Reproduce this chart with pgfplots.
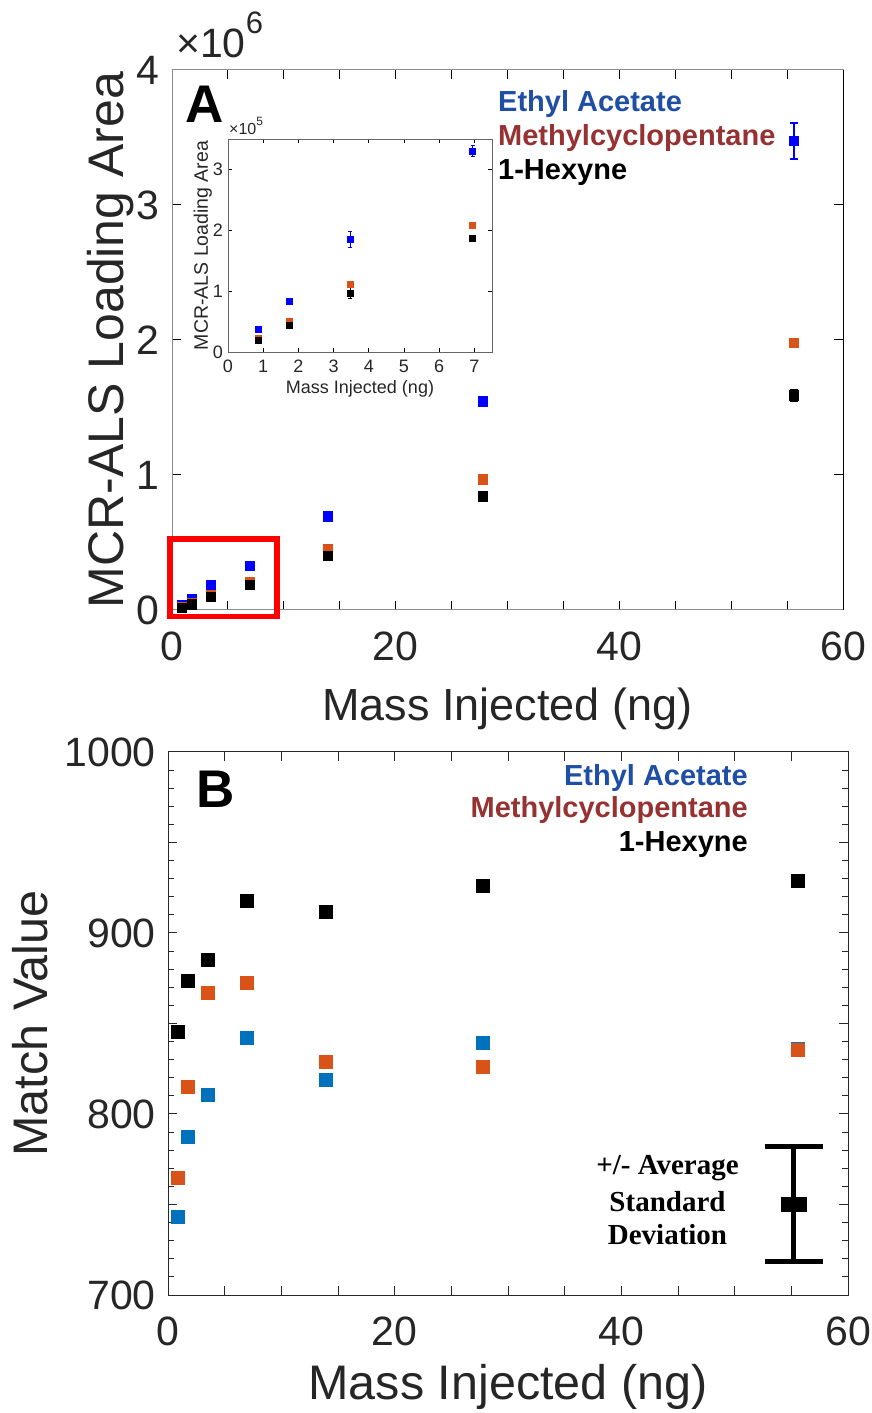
\documentclass[border=0pt]{standalone}
\usepackage{fontspec}
\setmainfont{Liberation Sans}
\newfontfamily\serifb{Liberation Serif}
\usepackage{pgfplots}
\usepackage{pgfplotstable}
\pgfplotsset{compat=1.18}
\definecolor{mblue}{RGB}{0,0,255}
\definecolor{morange}{RGB}{217,83,25}
\definecolor{mblueb}{RGB}{0,114,189}
\definecolor{legblue}{RGB}{31,78,165}
\definecolor{legred}{RGB}{150,50,50}
\definecolor{tickgray}{RGB}{38,38,38}
\newcommand{\fs}[1]{\fontsize{#1}{#1}\selectfont}

% Panel A: MCR-ALS loading area
\pgfplotstableread{
x y e
0.87 37000 2000
1.74 84000 4000
3.48 185000 13000
6.95 330000 9000
13.9 696000 10000
27.8 1548000 10000
55.6 3474000 137000
}\eaA
\pgfplotstableread{
x y e
0.87 23000 1000
1.74 51000 2000
3.48 112000 3000
6.95 209000 4000
13.9 450000 10000
27.8 970000 30000
55.6 1980000 25000
}\mcpA
\pgfplotstableread{
x y e
0.87 19000 2000
1.74 44000 3000
3.48 96500 9000
6.95 187000 5000
13.9 400000 5000
27.8 844000 8000
55.6 1590000 40000
}\hexA
% Panel B: match value
\pgfplotstableread{
x y
0.87 743.4
1.74 787.4
3.48 810.4
6.95 842
13.9 818.9
27.8 839.3
55.6 836.3
}\eaB
\pgfplotstableread{
x y
0.87 765
1.74 815.1
3.48 866.8
6.95 872.3
13.9 828.7
27.8 826
55.6 835.4
}\mcpB
\pgfplotstableread{
x y
0.87 845.4
1.74 873.7
3.48 885.1
6.95 917.9
13.9 911.6
27.8 926.1
55.6 928.9
}\hexB

\begin{document}
\begin{tikzpicture}[x=1pt,y=1pt]
\useasboundingbox (0,0) rectangle (871,1413);

% ---------------- Panel A ----------------
\begin{axis}[
  at={(172pt,803pt)}, anchor=south west, scale only axis,
  width=671pt, height=540pt,
  xmin=0, xmax=60, ymin=0, ymax=4e6,
  xtick={0,5,...,60}, xticklabels={0,,,,20,,,,40,,,,60},
  ytick={0,1e6,2e6,3e6,4e6}, yticklabels={0,1,2,3,4},
  scaled y ticks=false, scaled x ticks=false,
  tick align=inside, major tick length=9pt,
  axis line style={black!45, line width=1pt},
  every tick/.style={black, line width=1pt},
  tick label style={font=\fs{41}, text=tickgray, inner sep=0pt},
  xticklabel shift=22pt, yticklabel shift=12pt,
  /pgf/number format/assume math mode=true,
  xlabel={Mass Injected (ng)}, ylabel={MCR-ALS Loading Area},
  label style={text=tickgray, inner sep=0pt},
  xlabel style={font=\fs{45}, at={(axis description cs:0.5,-0.143)}, anchor=north},
  ylabel style={font=\fs{50}, at={(axis description cs:-0.056,0.5)}, anchor=south},
  clip=false,
]
\addplot[only marks, mark=square*, mark size=4.7pt, color=mblue,
  error bars/.cd, y dir=both, y explicit,
  error bar style={line width=2pt, mblue},
  error mark options={rotate=90, mark size=4pt, line width=2pt, mblue}]
  table[x=x, y=y, y error=e] {\eaA};
\addplot[only marks, mark=square*, mark size=4.7pt, color=morange,
  error bars/.cd, y dir=both, y explicit,
  error bar style={line width=2pt, morange},
  error mark options={rotate=90, mark size=4pt, line width=2pt, morange}]
  table[x=x, y=y, y error=e] {\mcpA};
\addplot[only marks, mark=square*, mark size=4.7pt, color=black,
  error bars/.cd, y dir=both, y explicit,
  error bar style={line width=2pt, black},
  error mark options={rotate=90, mark size=4pt, line width=2pt, black}]
  table[x=x, y=y, y error=e] {\hexA};
\draw[red, line width=5.5pt] (axis cs:-0.2,-0.05e6) rectangle (axis cs:9.4,0.525e6);
\draw[black, line width=1pt] (rel axis cs:1,0) -- (rel axis cs:1,1);
\end{axis}

% ---------------- Inset ----------------
\begin{axis}[
  at={(228pt,1061pt)}, anchor=south west, scale only axis,
  width=264pt, height=213pt,
  xmin=0, xmax=7.5, ymin=0, ymax=3.5e5,
  xtick={0,1,...,7},
  ytick={0,1e5,2e5,3e5}, yticklabels={0,1,2,3},
  scaled y ticks=false,
  axis background/.style={fill=white},
  tick align=inside, major tick length=4pt,
  axis line style={black!60, line width=0.7pt},
  every tick/.style={black, line width=0.7pt},
  tick label style={font=\fs{18}, text=tickgray, inner sep=0pt},
  xticklabel shift=8pt, yticklabel shift=5pt,
  /pgf/number format/assume math mode=true,
  xlabel={Mass Injected (ng)}, ylabel={MCR-ALS Loading Area},
  label style={text=tickgray, inner sep=0pt},
  xlabel style={font=\fs{18}, at={(axis description cs:0.5,-0.131)}, anchor=north},
  ylabel style={font=\fs{19.5}, at={(axis description cs:-0.06,0.5)}, anchor=south},
  clip=true,
]
\addplot[only marks, mark=square*, mark size=3pt, color=mblue,
  error bars/.cd, y dir=both, y explicit,
  error bar style={line width=1pt, mblue},
  error mark options={rotate=90, mark size=2pt, line width=1pt, mblue}]
  table[x=x, y=y, y error=e] {\eaA};
\addplot[only marks, mark=square*, mark size=3pt, color=morange,
  error bars/.cd, y dir=both, y explicit,
  error bar style={line width=1pt, morange},
  error mark options={rotate=90, mark size=2pt, line width=1pt, morange}]
  table[x=x, y=y, y error=e] {\mcpA};
\addplot[only marks, mark=square*, mark size=3pt, color=black,
  error bars/.cd, y dir=both, y explicit,
  error bar style={line width=1pt, black},
  error mark options={rotate=90, mark size=2pt, line width=1pt, black}]
  table[x=x, y=y, y error=e] {\hexA};
\end{axis}

% ---------------- Panel B ----------------
\begin{axis}[
  at={(168pt,118pt)}, anchor=south west, scale only axis,
  width=680pt, height=543pt,
  xmin=0, xmax=60, ymin=700, ymax=1000,
  xtick={0,5,...,60}, xticklabels={0,,,,20,,,,40,,,,60},
  ytick={700,750,...,1000}, yticklabels={700,,800,,900,,1000},
  minor y tick num=4,
  tick align=inside, major tick length=9pt, minor tick length=6pt,
  axis line style={tickgray, line width=1pt},
  every tick/.style={tickgray, line width=1pt},
  tick label style={font=\fs{41}, text=tickgray, inner sep=0pt},
  xticklabel shift=22pt, yticklabel shift=12pt,
  /pgf/number format/assume math mode=true,
  xlabel={Mass Injected (ng)}, ylabel={Match Value},
  label style={font=\fs{48.5}, text=tickgray, inner sep=0pt},
  xlabel style={at={(axis description cs:0.5,-0.128)}, anchor=north},
  ylabel style={at={(axis description cs:-0.176,0.5)}, anchor=south},
  clip=false,
]
\addplot[only marks, mark=square*, mark size=6.5pt, color=mblueb] table[x=x,y=y] {\eaB};
\addplot[only marks, mark=square*, mark size=6.5pt, color=morange] table[x=x,y=y] {\mcpB};
\addplot[only marks, mark=square*, mark size=6.5pt, color=black] table[x=x,y=y] {\hexB};
\addplot[only marks, mark=square*, mark size=7pt, color=black,
  mark options={xscale=1.75, rounded corners=1.5pt},
  error bars/.cd, y dir=both, y explicit,
  error bar style={line width=5pt, black},
  error mark options={rotate=90, mark size=29pt, line width=5pt, black}]
  coordinates {(55.2,750.3) +- (0,31.6)};
\end{axis}

% ---------------- Text annotations ----------------
\node[anchor=base west, inner sep=0pt, font=\fs{41}, text=tickgray] at (176,1355) {×10\raisebox{24pt}{\fs{31}6}};
\node[anchor=base west, inner sep=0pt, font=\fs{16}, text=tickgray] at (229,1278) {×10\raisebox{9pt}{\fs{12}5}};
\node[anchor=base west, inner sep=0pt, font=\fs{53}\bfseries] at (185,1290) {A};
\node[anchor=base west, inner sep=0pt, font=\fs{53}\bfseries] at (196,605) {B};

\node[anchor=base west, inner sep=0pt, font=\fs{29}\bfseries, text=legblue] at (498,1301) {Ethyl Acetate};
\node[anchor=base west, inner sep=0pt, font=\fs{29}\bfseries, text=legred] at (498,1267) {Methylcyclopentane};
\node[anchor=base west, inner sep=0pt, font=\fs{29}\bfseries, text=black] at (498,1233) {1-Hexyne};

\node[anchor=base east, inner sep=0pt, font=\fs{29}\bfseries, text=legblue] at (748,627) {Ethyl Acetate};
\node[anchor=base east, inner sep=0pt, font=\fs{29}\bfseries, text=legred] at (748,595) {Methylcyclopentane};
\node[anchor=base east, inner sep=0pt, font=\fs{29}\bfseries, text=black] at (748,561) {1-Hexyne};

\node[anchor=base, inner sep=0pt, font=\serifb\fs{29}\bfseries] at (667.5,238) {+/- Average};
\node[anchor=base, inner sep=0pt, font=\serifb\fs{29}\bfseries] at (667.5,201) {Standard};
\node[anchor=base, inner sep=0pt, font=\serifb\fs{29}\bfseries] at (667.5,168) {Deviation};
\end{tikzpicture}
\end{document}
